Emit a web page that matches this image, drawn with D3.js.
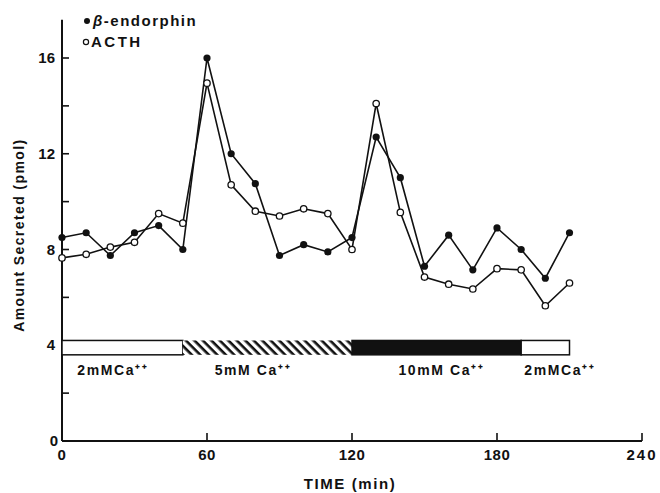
<!DOCTYPE html>
<html>
<head>
<meta charset="utf-8">
<script src="https://cdn.jsdelivr.net/npm/d3@7"></script>
<style>
  body { margin: 0; background: #fff; }
  text { font-family: "Liberation Sans", Arial, sans-serif; font-weight: bold; fill: #111; }
</style>
</head>
<body>
<svg id="chart"></svg>
<script>
const times = [0, 10, 20, 30, 40, 50, 60, 70, 80, 90, 100, 110, 120, 130, 140, 150, 160, 170, 180, 190, 200, 210];
const endorphin = [8.5, 8.7, 7.75, 8.7, 9.0, 8.0, 16.0, 12.0, 10.75, 7.75, 8.2, 7.9, 8.5, 12.7, 11.0, 7.3, 8.6, 7.15, 8.9, 8.0, 6.8, 8.7];
const acth = [7.65, 7.8, 8.1, 8.3, 9.5, 9.1, 14.95, 10.7, 9.6, 9.4, 9.7, 9.5, 8.0, 14.1, 9.55, 6.85, 6.55, 6.35, 7.2, 7.15, 5.65, 6.6];

const xTicks = [0, 60, 120, 180, 240];
const yTicks = [0, 4, 8, 12, 16];
const yMinor = [2, 6, 10, 14];

const segStart = [0, 50, 120, 190];
const segEnd = [50, 120, 190, 210];
const segFill = ["open", "hatch", "solid", "open"];
const segLabels = ["2mMCa⁺⁺", "5mM Ca⁺⁺", "10mM Ca⁺⁺", "2mMCa⁺⁺"];
const segLabelAt = [21, 79, 157, 206];

const width = 660, height = 493;

const svg = d3.select("#chart").attr("width", width).attr("height", height);

const x = d3.scaleLinear().domain([0, 240]).range([62, 642]);
const y = d3.scaleLinear().domain([0, 16]).range([441, 58]);

// diagonal hatch, running top-left to bottom-right
const pat = svg.append("defs").append("pattern")
  .attr("id", "hatch")
  .attr("patternUnits", "userSpaceOnUse")
  .attr("width", 6).attr("height", 6)
  .attr("patternTransform", "rotate(45)");
pat.append("rect").attr("width", 6).attr("height", 6).attr("fill", "#fff");
pat.append("rect").attr("width", 6).attr("height", 2.6).attr("fill", "#111");

// axes
svg.append("line")
  .attr("x1", x(0)).attr("x2", x(0))
  .attr("y1", y(0)).attr("y2", y(17.6))
  .attr("stroke", "#111").attr("stroke-width", 2);
svg.append("line")
  .attr("x1", x(0)).attr("x2", x(240))
  .attr("y1", y(0)).attr("y2", y(0))
  .attr("stroke", "#111").attr("stroke-width", 2);

svg.selectAll(".ytick")
  .data(yTicks.concat(yMinor))
  .enter().append("line")
  .attr("x1", x(0)).attr("x2", x(0) + 7)
  .attr("y1", d => y(d)).attr("y2", d => y(d))
  .attr("stroke", "#111").attr("stroke-width", 1.6);

svg.selectAll(".ylab")
  .data(yTicks)
  .enter().append("text")
  .attr("x", d => d === 0 ? x(0) - 4 : x(0) - 7)
  .attr("y", d => y(d) + 5)
  .attr("text-anchor", "end")
  .attr("font-size", 15)
  .text(d => d);

svg.selectAll(".xtick")
  .data(xTicks.slice(1))
  .enter().append("line")
  .attr("x1", d => x(d)).attr("x2", d => x(d))
  .attr("y1", y(0)).attr("y2", y(0) - 8)
  .attr("stroke", "#111").attr("stroke-width", 1.6);

svg.selectAll(".xlab")
  .data(xTicks)
  .enter().append("text")
  .attr("x", d => x(d))
  .attr("y", y(0) + 19)
  .attr("text-anchor", "middle")
  .attr("font-size", 15)
  .attr("letter-spacing", d => d === 240 ? 2 : 0.5)
  .text(d => d);

svg.append("text")
  .attr("x", x(120) - 2)
  .attr("y", 489)
  .attr("text-anchor", "middle")
  .attr("font-size", 15)
  .attr("letter-spacing", 1.6)
  .text("TIME (min)");

svg.append("text")
  .attr("transform", `translate(24, ${y(8.6)}) rotate(-90)`)
  .attr("text-anchor", "middle")
  .attr("font-size", 14)
  .attr("letter-spacing", 1.4)
  .text("Amount Secreted (pmol)");

// calcium bar
const barTop = y(4.2), barBot = y(3.6);
svg.selectAll(".seg")
  .data(segStart)
  .enter().append("rect")
  .attr("x", (d, i) => x(d))
  .attr("y", barTop)
  .attr("width", (d, i) => x(segEnd[i]) - x(d))
  .attr("height", barBot - barTop)
  .attr("fill", (d, i) => segFill[i] === "open" ? "#fff" : segFill[i] === "solid" ? "#111" : "url(#hatch)")
  .attr("stroke", (d, i) => segFill[i] === "hatch" ? "none" : "#111")
  .attr("stroke-width", 1.5);

svg.selectAll(".seglab")
  .data(segLabels)
  .enter().append("text")
  .attr("x", (d, i) => x(segLabelAt[i]))
  .attr("y", y(3.6) + 20)
  .attr("text-anchor", "middle")
  .attr("font-size", 14)
  .attr("letter-spacing", 1.6)
  .text(d => d);

// lines
const line = d3.line().x((d, i) => x(times[i])).y(d => y(d));

svg.append("path").datum(endorphin).attr("d", line)
  .attr("fill", "none").attr("stroke", "#111").attr("stroke-width", 1.6);
svg.append("path").datum(acth).attr("d", line)
  .attr("fill", "none").attr("stroke", "#111").attr("stroke-width", 1.6);

svg.selectAll(".dotE")
  .data(endorphin)
  .enter().append("circle")
  .attr("cx", (d, i) => x(times[i]))
  .attr("cy", d => y(d))
  .attr("r", 3.6)
  .attr("fill", "#111");

svg.selectAll(".dotA")
  .data(acth)
  .enter().append("circle")
  .attr("cx", (d, i) => x(times[i]))
  .attr("cy", d => y(d))
  .attr("r", 3.2)
  .attr("fill", "#fff")
  .attr("stroke", "#111")
  .attr("stroke-width", 1.3);

// legend
svg.append("circle").attr("cx", 87).attr("cy", 21).attr("r", 3).attr("fill", "#111");
svg.append("text").attr("x", 93).attr("y", 26).attr("font-size", 15)
  .attr("letter-spacing", 1.5)
  .html('<tspan font-style="italic">β</tspan>-endorphin');
svg.append("circle").attr("cx", 86).attr("cy", 42).attr("r", 2.6)
  .attr("fill", "#fff").attr("stroke", "#111").attr("stroke-width", 1.2);
svg.append("text").attr("x", 91).attr("y", 47).attr("font-size", 15)
  .attr("letter-spacing", 2.5)
  .text("ACTH");
</script>
</body>
</html>
